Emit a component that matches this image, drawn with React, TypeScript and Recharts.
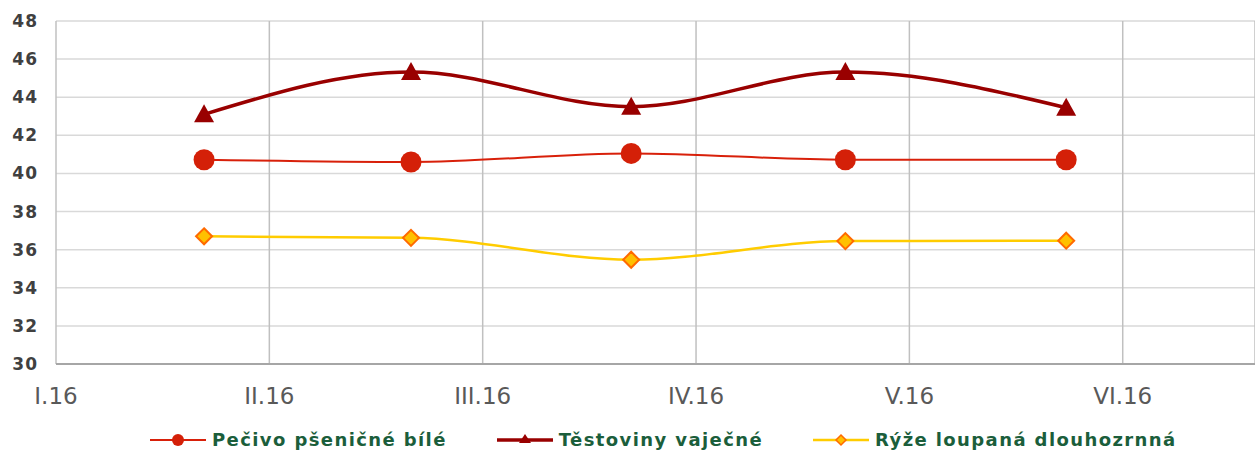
import { CartesianGrid, Legend, Line, LineChart, XAxis, YAxis } from "recharts";

const monthLabels = ["I.16", "II.16", "III.16", "IV.16", "V.16", "VI.16"];
const yTicks = [30, 32, 34, 36, 38, 40, 42, 44, 46, 48];

// survey dates as fraction of the month axis (0 = I.16)
const surveyX = [0.694, 1.664, 2.696, 3.7, 4.735];
const pecivo = [40.72, 40.6, 41.05, 40.72, 40.72];
const testoviny = [43.1, 45.32, 43.5, 45.32, 43.45];
const ryze = [36.7, 36.62, 35.47, 36.45, 36.47];

const series = [
  { key: "pecivo", name: "Pečivo pšeničné bílé", color: "#d8200a", width: 2, marker: "circle" },
  { key: "testoviny", name: "Těstoviny vaječné", color: "#990000", width: 3.5, marker: "triangle" },
  { key: "ryze", name: "Rýže loupaná dlouhozrnná", color: "#ffcc00", width: 2.5, marker: "diamond" },
] as const;

const data = surveyX.map((x, i) => ({
  x,
  pecivo: pecivo[i],
  testoviny: testoviny[i],
  ryze: ryze[i],
}));

function Marker({ kind, cx, cy }: { kind: string; cx: number; cy: number }) {
  if (kind === "circle") {
    return <circle cx={cx} cy={cy} r={10.5} fill="#d42008" />;
  }
  if (kind === "triangle") {
    return <path d={`M${cx},${cy - 10} L${cx + 10},${cy + 8} L${cx - 10},${cy + 8} Z`} fill="#990000" />;
  }
  return (
    <path
      d={`M${cx},${cy - 8} L${cx + 8},${cy} L${cx},${cy + 8} L${cx - 8},${cy} Z`}
      fill="#ffc000"
      stroke="#ff6a00"
      strokeWidth={2}
    />
  );
}

function LegendContent() {
  return (
    <div style={{ display: "flex", paddingLeft: 150, paddingTop: 25, gap: 50 }}>
      {series.map((s) => (
        <div key={s.key} style={{ display: "flex", alignItems: "center" }}>
          <svg width={58} height={20}>
            <line x1={0} y1={10} x2={56} y2={10} stroke={s.color} strokeWidth={s.width} />
            {s.marker === "circle" && <circle cx={28} cy={10} r={6} fill="#d42008" />}
            {s.marker === "triangle" && <path d="M28,4 L34,13 L22,13 Z" fill="#990000" />}
            {s.marker === "diamond" && (
              <path d="M28,5 L33,10 L28,15 L23,10 Z" fill="#ffc000" stroke="#ff6a00" strokeWidth={1.5} />
            )}
          </svg>
          <span
            style={{
              marginLeft: 4,
              fontFamily: "Verdana, 'DejaVu Sans', sans-serif",
              fontWeight: "bold",
              fontSize: 18,
              letterSpacing: 1.4,
              color: "#1b5e3b",
              whiteSpace: "nowrap",
            }}
          >
            {s.name}
          </span>
        </div>
      ))}
    </div>
  );
}

export default function App() {
  return (
    <div style={{ position: "absolute", left: 0, top: 0, background: "#fff" }}>
      <LineChart width={1255} height={452} data={data} margin={{ top: 21, right: 0, bottom: 0, left: 0 }}>
        <CartesianGrid horizontal={true} vertical={false} stroke="#d9d9d9" strokeWidth={1.5} />
        <CartesianGrid horizontal={false} vertical={true} stroke="#c0c0c0" strokeWidth={1.5} />
        <XAxis
          type="number"
          dataKey="x"
          domain={[0, 5.62]}
          ticks={[0, 1, 2, 3, 4, 5]}
          tickFormatter={(v: number) => monthLabels[v]}
          allowDataOverflow
          height={40}
          axisLine={{ stroke: "#a6a6a6", strokeWidth: 2 }}
          tickLine={false}
          tickMargin={18}
          tick={{ fill: "#595959", fontSize: 23, fontFamily: "Verdana, 'DejaVu Sans', sans-serif" }}
        />
        <YAxis
          domain={[30, 48]}
          ticks={yTicks}
          width={56}
          axisLine={false}
          tickLine={false}
          tickSize={0}
          tickMargin={18}
          tick={{
            fill: "#404040",
            fontSize: 17,
            fontWeight: "bold",
            letterSpacing: 1,
            fontFamily: "Verdana, 'DejaVu Sans', sans-serif",
          }}
        />
        <Legend verticalAlign="bottom" height={48} content={<LegendContent />} />
        {series.map((s) => (
          <Line
            key={s.key}
            type="monotone"
            dataKey={s.key}
            name={s.name}
            stroke={s.color}
            strokeWidth={s.width}
            isAnimationActive={false}
            dot={(p: any) => <Marker key={`${s.key}-${p.index}`} kind={s.marker} cx={p.cx} cy={p.cy} />}
            activeDot={false}
          />
        ))}
      </LineChart>
    </div>
  );
}
